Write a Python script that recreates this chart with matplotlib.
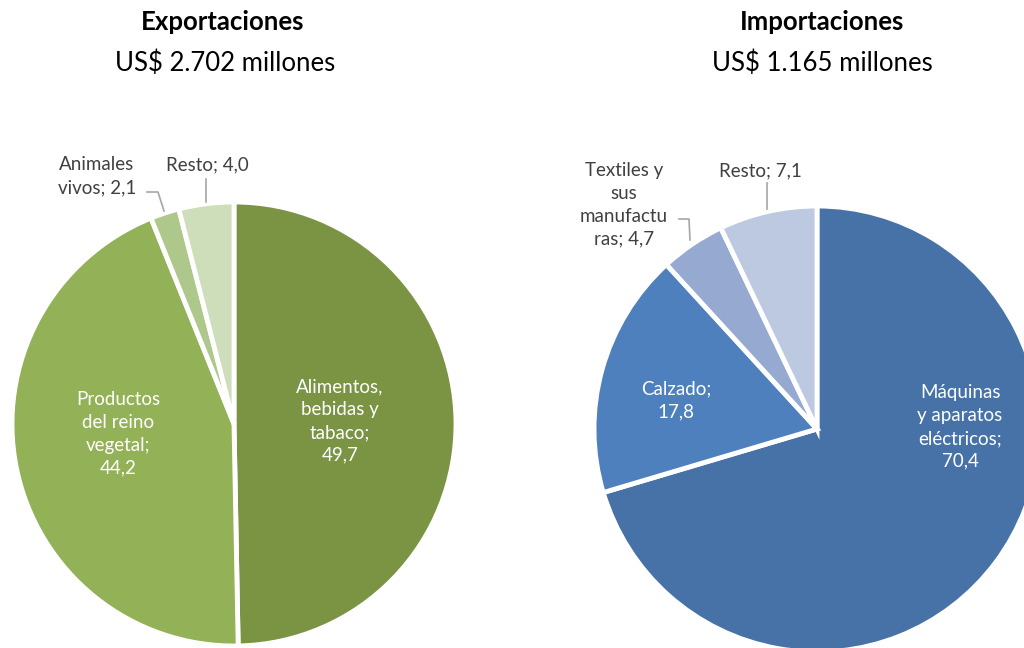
import matplotlib
matplotlib.use("Agg")
import matplotlib.pyplot as plt

# Data
exp_labels = ["Alimentos,\nbebidas y\ntabaco;\n49,7", "Productos\ndel reino\nvegetal;\n44,2",
              "Animales\nvivos; 2,1", "Resto; 4,0"]
exp_values = [49.7, 44.2, 2.1, 4.0]
imp_labels = ["Máquinas\ny aparatos\neléctricos;\n70,4", "Calzado;\n17,8",
              "Textiles y\nsus\nmanufactu\nras; 4,7", "Resto; 7,1"]
imp_values = [70.4, 17.8, 4.7, 7.1]
exp_title = "Exportaciones"
exp_sub = "US$ 2.702 millones"
imp_title = "Importaciones"
imp_sub = "US$ 1.165 millones"

exp_colors = ["#7A9443", "#93B157", "#AEC78A", "#CEDDBA"]
imp_colors = ["#4672A8", "#4E80BD", "#95A9D1", "#BCC9E1"]

FONT = ["Lato", "DejaVu Sans"]
W, H = 1024, 648
fig = plt.figure(figsize=(W / 100, H / 100), dpi=100)
ax = fig.add_axes([0, 0, 1, 1])

def Y(y):
    return H - y

wp = dict(edgecolor="white", linewidth=3.5)
ax.pie(exp_values, colors=exp_colors, startangle=90, counterclock=False,
       center=(234, Y(424)), radius=222, wedgeprops=wp, frame=True)
ax.pie(imp_values, colors=imp_colors, startangle=90, counterclock=False,
       center=(817, Y(429)), radius=223, wedgeprops=wp, frame=True)
ax.set_xlim(0, W)
ax.set_ylim(0, H)
ax.set_aspect("equal")
ax.axis("off")

fs = 13.5
# inside labels (white)
inside = [(exp_labels[0], 340, 421), (exp_labels[1], 118, 434),
          (imp_labels[0], 960, 427), (imp_labels[1], 676, 400)]
for t, x, y in inside:
    ax.text(x, Y(y), t, color="white", fontsize=fs, family=FONT,
            ha="center", va="center", linespacing=1.42)

# outside labels
outside = [(exp_labels[2], 97, 176), (exp_labels[3], 207, 165),
           (imp_labels[2], 624, 205), (imp_labels[3], 760, 171)]
for t, x, y in outside:
    ax.text(x, Y(y), t, color="#404040", fontsize=fs, family=FONT,
            ha="center", va="center", linespacing=1.42)

lc = "#A6A6A6"
leaders = [([147, 158, 164], [192, 192, 211]),
           ([206, 206], [179, 202]),
           ([679, 689, 690], [219, 219, 240]),
           ([767, 767], [183, 209])]
for xs, ys in leaders:
    ax.plot(xs, [Y(v) for v in ys], color=lc, lw=1.2)

# titles
ax.text(223, Y(22), exp_title, fontsize=18.5, fontweight="bold", family=FONT,
        ha="center", va="center", color="black")
ax.text(225, Y(63), exp_sub, fontsize=18.5, family=FONT, ha="center", va="center", color="black")
ax.text(822, Y(22), imp_title, fontsize=18.5, fontweight="bold", family=FONT,
        ha="center", va="center", color="black")
ax.text(822, Y(63), imp_sub, fontsize=18.5, family=FONT, ha="center", va="center", color="black")

fig.savefig("out.png", dpi=100, facecolor="white")
